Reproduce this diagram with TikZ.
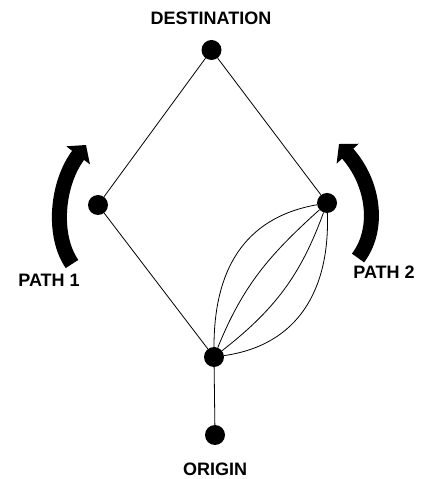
\documentclass[tikz,border=0pt]{standalone}
\usepackage{fontspec}
\setmainfont{Liberation Sans}
\usetikzlibrary{arrows.meta}
\begin{document}
\begin{tikzpicture}[x=1pt,y=1pt,
  dot/.style={circle,fill=black,inner sep=0pt,minimum size=20pt},
  edge/.style={line width=0.8pt},
  lbl/.style={font=\fontsize{18}{20}\selectfont\bfseries,inner sep=0pt},
  bigarrow/.style={line width=15pt,-{Triangle[length=13pt,width=29pt]}}]
\useasboundingbox (0,0) rectangle (426,479);
\node[dot] (dest) at (211.5,429) {};
\node[dot] (left) at (98,274) {};
\node[dot] (right) at (327,276) {};
\node[dot] (mid) at (214,122) {};
\node[dot] (orig) at (215,44) {};
\node[lbl] (tdest) at (211,461) {DESTINATION};
\node[lbl] (tp1) at (49,199) {PATH 1};
\node[lbl] (tp2) at (384,207) {PATH 2};
\node[lbl] (torig) at (215,10) {ORIGIN};
\draw[edge] (dest) -- (left);
\draw[edge] (dest) -- (right);
\draw[edge] (left) -- (mid);
\draw[edge] (mid) -- (orig);
\draw[edge] (mid) to[out=90,in=190,looseness=1.1] (right);
\draw[edge] (mid) to[out=68,in=222] (right);
\draw[edge] (mid) to[out=38,in=250] (right);
\draw[edge] (mid) to[out=8,in=272,looseness=1.1] (right);
\coordinate (a1s) at (72,215);
\coordinate (a1e) at (86,334);
\coordinate (a2s) at (358,221);
\coordinate (a2e) at (339,335);
\draw[bigarrow] (a1s) .. controls (52,244) and (57,296) .. (a1e);
\draw[bigarrow] (a2s) .. controls (380,250) and (374,296) .. (a2e);
\end{tikzpicture}
\end{document}
